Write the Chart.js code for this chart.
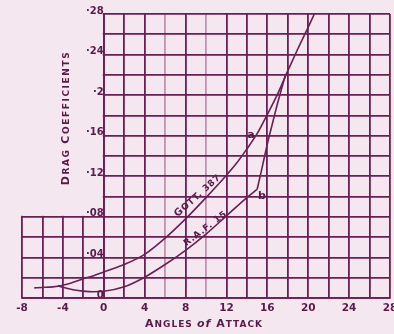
<!DOCTYPE html>
<html>
<head>
<meta charset="utf-8">
<script src="https://cdn.jsdelivr.net/npm/chart.js@4.4.1/dist/chart.umd.min.js"></script>
<style>
  html, body { margin: 0; padding: 0; background: #f4e7ef; }
  #dragChart { display: block; }
</style>
</head>
<body>
<canvas id="dragChart" width="394" height="334"></canvas>
<script>
// Gött. 387 section (curve a)
const gottAngle = [-6.8, -6, -5, -4, -3, -2, -1, 0, 2, 4, 6, 8, 10, 12, 13, 14, 15, 16, 17, 18, 19, 20, 20.6];
const gottDrag = [0.010, 0.0104, 0.011, 0.0126, 0.0155, 0.019, 0.022, 0.0256, 0.033, 0.043, 0.059, 0.078, 0.099, 0.121, 0.133, 0.147, 0.162, 0.181, 0.201, 0.224, 0.246, 0.267, 0.280];

// R.A.F. 15 section (curve b), below the stall and after it
const rafAngle = [-4.5, -4, -3, -2, -1, 0, 2, 4, 6, 8, 10, 12, 14, 15];
const rafDrag = [0.0122, 0.0105, 0.0082, 0.0068, 0.0062, 0.0066, 0.011, 0.0205, 0.033, 0.047, 0.063, 0.081, 0.099, 0.107];
const rafStallAngle = [15, 15.5, 16, 16.5, 17, 17.8];
const rafStallDrag = [0.107, 0.129, 0.152, 0.172, 0.192, 0.221];

// tick labels
const xLabelValues = [-8, -4, 0, 4, 8, 12, 16, 20, 24, 28];
const yLabels = ["0", "\u00b704", "\u00b708", "\u00b712", "\u00b716", "\u00b72", "\u00b724", "\u00b728"];

const paper = "#f4e7ef";
const ink = "#6a1f53";
const textInk = "#5a1a48";
const family = "'DejaVu Sans', sans-serif";

function pts(xs, ys) {
  return xs.map((x, i) => ({ x: x, y: ys[i] }));
}

// lettering helper: pieces of [text, size, style]
function letter(ctx, pieces, x, y, angle, spacing) {
  ctx.save();
  ctx.translate(x, y);
  ctx.rotate(angle);
  ctx.letterSpacing = spacing + "px";
  ctx.fillStyle = textInk;
  ctx.textAlign = "left";
  ctx.textBaseline = "alphabetic";
  let total = 0, maxSize = 0;
  const widths = pieces.map(p => {
    ctx.font = (p[2] || "bold") + " " + p[1] + "px " + family;
    const w = ctx.measureText(p[0]).width;
    total += w;
    maxSize = Math.max(maxSize, p[1]);
    return w;
  });
  let cx = -total / 2;
  const base = maxSize * 0.36;
  pieces.forEach((p, i) => {
    ctx.font = (p[2] || "bold") + " " + p[1] + "px " + family;
    ctx.fillText(p[0], cx, base);
    cx += widths[i];
  });
  ctx.restore();
}

// blank paper where the upper grid does not reach (left of 0 deg, above .08)
const paperCover = {
  id: "paperCover",
  beforeDatasetsDraw(chart) {
    const { ctx, scales } = chart;
    const x0 = scales.x.getPixelForValue(0);
    const y8 = scales.y.getPixelForValue(0.08);
    ctx.save();
    ctx.fillStyle = paper;
    ctx.fillRect(0, 0, x0 - 1, y8 - 1);
    ctx.restore();
  }
};

const lettering = {
  id: "lettering",
  afterDraw(chart) {
    const ctx = chart.ctx;
    letter(ctx, [["D", 11], ["RAG ", 9], ["C", 11], ["OEFFICIENTS", 9]], 65, 118, -Math.PI / 2, 1.6);
    letter(ctx, [["A", 11], ["NGLES ", 9], ["of", 11, "italic bold"], [" A", 11], ["TTACK", 9]], 204, 323, 0, 1);
    letter(ctx, [["G", 10], ["OTT. 387", 9]], 197, 195, -0.73, 0.7);
    letter(ctx, [["R.A.F. 15", 9]], 205, 228, -0.65, 0.8);
    letter(ctx, [["a", 11]], 251, 134, 0, 0);
    letter(ctx, [["b", 11]], 262, 195, 0, 0);
  }
};

new Chart(document.getElementById("dragChart"), {
  type: "line",
  data: {
    datasets: [
      {
        label: "Gött. 387",
        data: pts(gottAngle, gottDrag),
        borderColor: ink,
        borderWidth: 1.6,
        pointRadius: 0,
        cubicInterpolationMode: "monotone"
      },
      {
        label: "R.A.F. 15",
        data: pts(rafAngle, rafDrag),
        borderColor: ink,
        borderWidth: 1.6,
        pointRadius: 0,
        cubicInterpolationMode: "monotone"
      },
      {
        label: "R.A.F. 15 stalled",
        data: pts(rafStallAngle, rafStallDrag),
        borderColor: ink,
        borderWidth: 1.6,
        pointRadius: 0,
        tension: 0.2
      }
    ]
  },
  options: {
    responsive: false,
    animation: false,
    devicePixelRatio: 1,
    layout: { padding: { left: 22, right: 4, top: 14, bottom: 0 } },
    plugins: {
      legend: { display: false },
      tooltip: { enabled: false }
    },
    scales: {
      x: {
        type: "linear",
        min: -8,
        max: 28,
        ticks: {
          stepSize: 2,
          autoSkip: false,
          maxRotation: 0,
          padding: 4,
          color: textInk,
          font: { family: family, size: 10.5, weight: "bold" },
          callback: v => (xLabelValues.includes(v) ? String(v) : "")
        },
        grid: {
          drawTicks: false,
          lineWidth: 1.8,
          color: c => (c.tick && (c.tick.value === 6 || c.tick.value === 10) ? "rgba(106,31,83,0.4)" : ink)
        },
        border: { color: ink, width: 1.8 },
        afterFit: s => { s.height = 36; s.paddingLeft = 0; s.paddingRight = 0; }
      },
      y: {
        type: "linear",
        min: 0,
        max: 0.28,
        position: { x: 0 },
        ticks: {
          stepSize: 0.02,
          padding: 3,
          labelOffset: -3,
          z: 1,
          color: textInk,
          font: { family: family, size: 10, weight: "bold" },
          callback: (v, i) => (i % 2 === 0 ? yLabels[i / 2] : "")
        },
        grid: { drawTicks: false, lineWidth: 1.8, color: ink },
        border: { color: ink, width: 1.8 },
        afterFit: s => { s.paddingTop = 0; s.paddingBottom = 0; }
      }
    }
  },
  plugins: [paperCover, lettering]
});
</script>
</body>
</html>
